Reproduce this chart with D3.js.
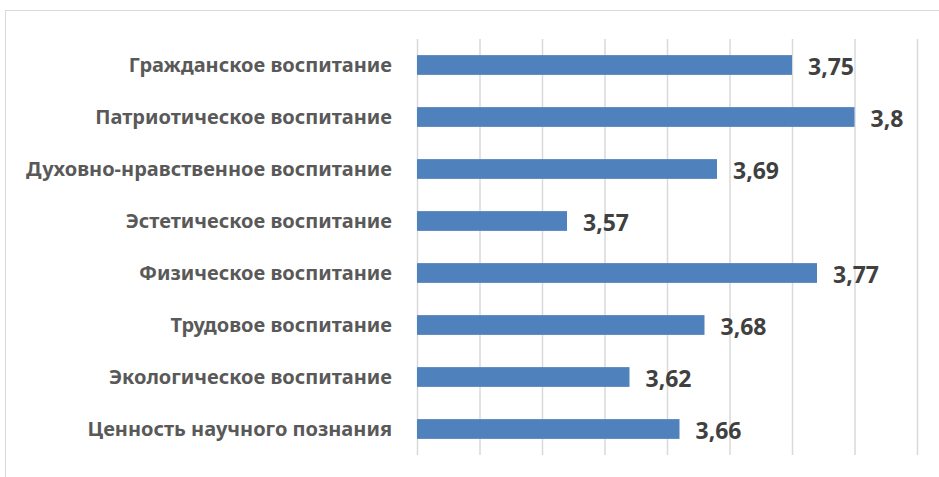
<!DOCTYPE html>
<html>
<head>
<meta charset="utf-8">
<script src="https://cdn.jsdelivr.net/npm/d3@7"></script>
<style>
  body { margin: 0; background: #fff; }
  svg { display: block; font-family: "Noto Sans", "Open Sans", sans-serif; }
  .cat { fill: #595959; font-weight: bold; font-size: 20px; }
  .val { fill: #404040; font-weight: bold; font-size: 23px; }
</style>
</head>
<body>
<div id="chart"></div>
<script>
// data
const categories = [
  'Гражданское воспитание',
  'Патриотическое воспитание',
  'Духовно-нравственное воспитание',
  'Эстетическое воспитание',
  'Физическое воспитание',
  'Трудовое воспитание',
  'Экологическое воспитание',
  'Ценность научного познания',
];
const values = [3.75, 3.8, 3.69, 3.57, 3.77, 3.68, 3.62, 3.66];
const xTicks = [3.45, 3.5, 3.55, 3.6, 3.65, 3.7, 3.75, 3.8, 3.85];

const width = 939, height = 477;
const plot = { left: 417, right: 917, top: 39, bottom: 455 };

const svg = d3.select('#chart').append('svg')
  .attr('width', width).attr('height', height);

// chart frame
svg.append('rect')
  .attr('x', 5.5).attr('y', 10.5)
  .attr('width', 960).attr('height', 500)
  .attr('fill', 'none').attr('stroke', '#d9d9d9');

const x = d3.scaleLinear().domain([3.45, 3.85]).range([plot.left, plot.right]);
const y = d3.scaleBand().domain(categories).range([plot.top, plot.bottom]).paddingInner(0.62).paddingOuter(0.31);

// gridlines
svg.append('g').attr('class', 'grid')
  .attr('transform', `translate(0,${plot.bottom})`)
  .call(d3.axisBottom(x).tickValues(xTicks).tickSize(-(plot.bottom - plot.top)).tickFormat(''))
  .call(g => g.select('.domain').remove())
  .call(g => g.selectAll('line').attr('stroke', '#d9d9d9').attr('stroke-width', 1.5));

// bars
svg.append('g').selectAll('rect')
  .data(values)
  .enter().append('rect')
  .attr('x', x(3.45))
  .attr('y', (d, i) => y(categories[i]))
  .attr('width', d => x(d) - x(3.45))
  .attr('height', y.bandwidth())
  .attr('fill', '#4f81bd');

// category labels
svg.append('g').selectAll('text')
  .data(categories)
  .enter().append('text')
  .attr('class', 'cat')
  .attr('x', 392)
  .attr('y', d => y(d) + y.bandwidth() / 2)
  .attr('dy', '0.35em')
  .attr('text-anchor', 'end')
  .text(d => d);

// value labels
svg.append('g').selectAll('text')
  .data(values)
  .enter().append('text')
  .attr('class', 'val')
  .attr('x', d => x(d) + 16)
  .attr('y', (d, i) => y(categories[i]) + y.bandwidth() / 2 + 2)
  .attr('dy', '0.35em')
  .text(d => String(d).replace('.', ','));
</script>
</body>
</html>
